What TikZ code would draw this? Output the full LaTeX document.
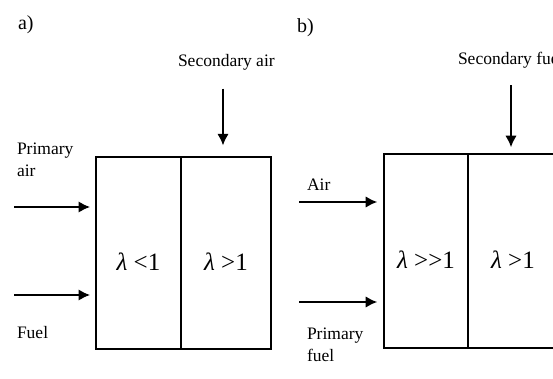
\documentclass[tikz,border=0pt]{standalone}
\usepackage{fontspec}
\setmainfont{Liberation Serif}
\usepackage{tikz}
\usetikzlibrary{arrows.meta, positioning, calc}

\begin{document}
\begin{tikzpicture}[
        x=0.6pt, y=-0.6pt,
        cell/.style={rectangle, draw=black, line width=1.3pt, outer sep=0pt, inner sep=0pt, minimum height=115pt},
        lbl/.style={font=\fontsize{10.5}{13}\selectfont, inner sep=1pt},
        panel/.style={font=\fontsize{12}{14}\selectfont, inner sep=1pt},
        lam/.style={font=\fontsize{15}{17}\selectfont, inner sep=0pt},
        flow/.style={line width=1.4pt, -{Latex[length=7pt, width=7pt]}},
    ]
    \useasboundingbox (0,0) rectangle (553,379);
    \clip (0,0) rectangle (553,379);

    % a) Luftstufung
    \node[panel, anchor=west] (pa) at (16,25) {a)};
    \node[cell, minimum width=51pt] (aL) at (138.5,253) {};
    \node[cell, minimum width=54pt, right=0pt of aL] (aR) {};
    \node[lam] at ([yshift=-5pt]aL.center) {\textit{λ} <1};
    \node[lam] at ([yshift=-5pt]aR.center) {\textit{λ} >1};

    \node[lbl, anchor=west] (secair) at (176,62) {Secondary air};
    \node[lbl, anchor=west, align=left] (primair) at (15,160) {Primary\\air};
    \node[lbl, anchor=west] (fuela) at (15,333) {Fuel};
    \coordinate (ina1) at (14,207);
    \coordinate (ina2) at (14,295);

    \draw[flow] ([yshift=-10pt]secair.south -| 223,0) -- ([yshift=7pt]aR.north -| 223,0);
    \draw[flow, shorten >=3.5pt] (ina1) -- (ina1 -| aL.west);
    \draw[flow, shorten >=3.5pt] (ina2) -- (ina2 -| aL.west);

    % b) Brennstoffstufung
    \node[panel, anchor=west] (pb) at (295,28) {b)};
    \node[cell, minimum width=50.4pt, minimum height=116.4pt] (bL) at (426,251) {};
    \node[cell, minimum width=54pt, minimum height=116.4pt, right=0pt of bL] (bR) {};
    \node[lam] at ([yshift=-5pt]bL.center) {\textit{λ} >\kern0pt>1};
    \node[lam] at ([yshift=-5pt]bR.center) {\textit{λ} >1};

    \node[lbl, anchor=west] (secfuel) at (456,60) {Secondary fuel};
    \node[lbl, anchor=west] (airb) at (305,185) {Air};
    \node[lbl, anchor=west, align=left] (primfuel) at (305,345) {Primary\\fuel};
    \coordinate (inb1) at (299,202);
    \coordinate (inb2) at (299,302);

    \draw[flow] ([yshift=-9pt]secfuel.south -| 511,0) -- ([yshift=4pt]bR.north -| 511,0);
    \draw[flow, shorten >=4pt] (inb1) -- (inb1 -| bL.west);
    \draw[flow, shorten >=4pt] (inb2) -- (inb2 -| bL.west);

\end{tikzpicture}
\end{document}
